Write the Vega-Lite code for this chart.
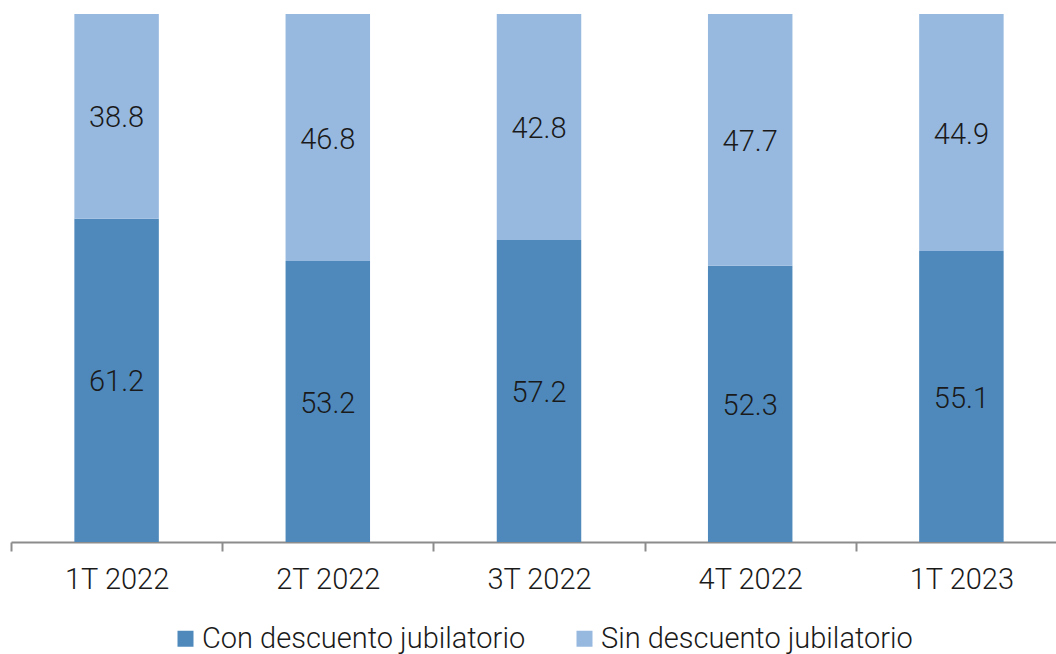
{
  "$schema": "https://vega.github.io/schema/vega-lite/v6.json",
  "width": 1056,
  "height": 528,
  "autosize": {"type": "none"},
  "padding": {"left": 11, "top": 14, "right": 0, "bottom": 112},
  "background": "#ffffff",
  "config": {"view": {"stroke": null}},
  "data": {"values": [
    {"periodo": "1T 2022", "tipo": "Con descuento jubilatorio", "orden": 1, "valor": 61.2},
    {"periodo": "1T 2022", "tipo": "Sin descuento jubilatorio", "orden": 2, "valor": 38.8},
    {"periodo": "2T 2022", "tipo": "Con descuento jubilatorio", "orden": 1, "valor": 53.2},
    {"periodo": "2T 2022", "tipo": "Sin descuento jubilatorio", "orden": 2, "valor": 46.8},
    {"periodo": "3T 2022", "tipo": "Con descuento jubilatorio", "orden": 1, "valor": 57.2},
    {"periodo": "3T 2022", "tipo": "Sin descuento jubilatorio", "orden": 2, "valor": 42.8},
    {"periodo": "4T 2022", "tipo": "Con descuento jubilatorio", "orden": 1, "valor": 52.3},
    {"periodo": "4T 2022", "tipo": "Sin descuento jubilatorio", "orden": 2, "valor": 47.7},
    {"periodo": "1T 2023", "tipo": "Con descuento jubilatorio", "orden": 1, "valor": 55.1},
    {"periodo": "1T 2023", "tipo": "Sin descuento jubilatorio", "orden": 2, "valor": 44.9}
  ]},
  "encoding": {
    "x": {
      "field": "periodo", "type": "nominal", "sort": null,
      "scale": {"paddingInner": 0, "paddingOuter": 0},
      "axis": {
        "title": null, "labelAngle": 0, "tickBand": "extent",
        "domainColor": "#8c8c8c", "domainWidth": 2,
        "tickColor": "#8c8c8c", "tickWidth": 2, "tickSize": 9,
        "labelFont": "Roboto", "labelFontWeight": 300, "labelFontSize": 29,
        "labelColor": "#1a1a1a", "labelPadding": 14, "labelBaseline": "top"
      }
    },
    "order": {"field": "orden", "type": "quantitative", "sort": "ascending"}
  },
  "layer": [
    {
      "mark": {"type": "bar", "width": {"band": 0.4}},
      "encoding": {
        "y": {"field": "valor", "type": "quantitative", "stack": "zero",
              "scale": {"domain": [0, 100], "nice": false}, "axis": null},
        "color": {
          "field": "tipo", "type": "nominal",
          "scale": {"domain": ["Con descuento jubilatorio", "Sin descuento jubilatorio"],
                    "range": ["#4f89bc", "#97b9e0"]},
          "legend": {
            "title": null, "orient": "none", "direction": "horizontal",
            "legendX": 160, "legendY": 610,
            "symbolType": "square", "symbolSize": 256, "symbolStrokeWidth": 0,
            "labelFont": "Roboto", "labelFontWeight": 300, "labelFontSize": 29,
            "labelColor": "#1a1a1a", "labelOffset": 2, "labelLimit": 0,
            "columnPadding": 44, "padding": 0
          }
        }
      }
    },
    {
      "mark": {"type": "text", "font": "Roboto", "fontWeight": 300, "fontSize": 29,
               "color": "#1a1a1a", "baseline": "middle", "dy": 2},
      "encoding": {
        "y": {"field": "valor", "type": "quantitative", "stack": "zero", "bandPosition": 0.5},
        "detail": {"field": "tipo"},
        "text": {"field": "valor", "type": "quantitative", "format": ".1f"}
      }
    }
  ]
}
